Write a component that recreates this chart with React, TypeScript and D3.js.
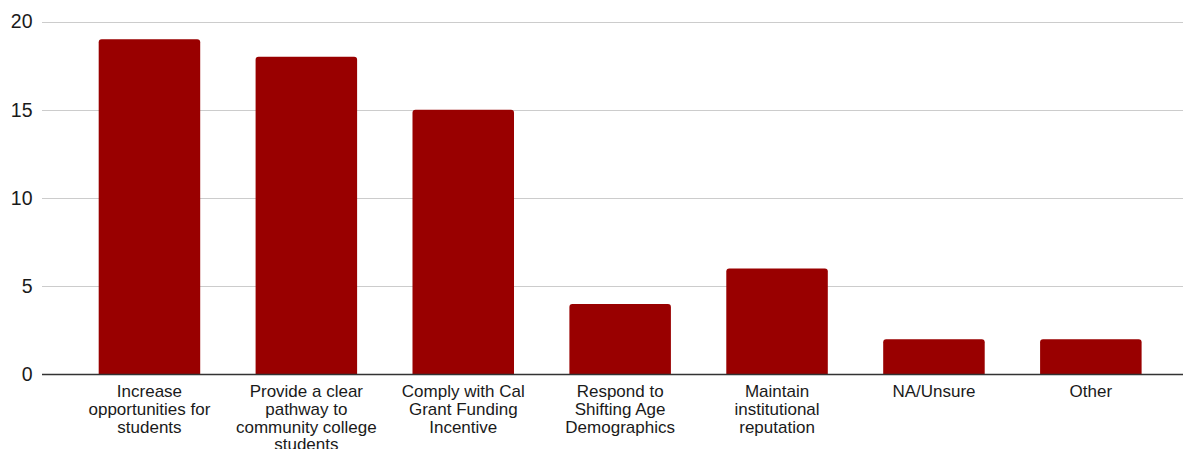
import React, { useEffect, useRef } from "react";
import * as d3 from "d3";

const categories = [
  "Increase opportunities for students",
  "Provide a clear pathway to community college students",
  "Comply with Cal Grant Funding Incentive",
  "Respond to Shifting Age Demographics",
  "Maintain institutional reputation",
  "NA/Unsure",
  "Other",
];
const values = [19, 18, 15, 4, 6, 2, 2];
const yTicks = [0, 5, 10, 15, 20];

const W = 1183;
const H = 449;
const FONT = "'Liberation Sans', Arial, sans-serif";

export default function App() {
  const ref = useRef<SVGSVGElement>(null);

  useEffect(() => {
    const svg = d3.select(ref.current);
    svg.selectAll("*").remove();

    const plotLeft = 71;
    const plotRight = 1169.3;
    const y = d3.scaleLinear().domain([0, 20]).range([374.5, 21.5]);
    const x = d3
      .scaleBand<string>()
      .domain(categories)
      .range([plotLeft, plotRight])
      .paddingInner(0.353)
      .paddingOuter(0.1765);

    // gridlines
    svg
      .append("g")
      .selectAll("line")
      .data(yTicks.filter((t) => t !== 0))
      .join("line")
      .attr("x1", 42)
      .attr("x2", W)
      .attr("y1", (d) => Math.round(y(d)) + 0.5)
      .attr("y2", (d) => Math.round(y(d)) + 0.5)
      .attr("stroke", "#cccccc")
      .attr("stroke-width", 1);

    // y labels
    svg
      .append("g")
      .selectAll("text")
      .data(yTicks)
      .join("text")
      .attr("x", 32.5)
      .attr("y", (d) => y(d))
      .attr("dy", "0.35em")
      .attr("text-anchor", "end")
      .attr("font-family", FONT)
      .attr("font-size", 19.5)
      .attr("fill", "#1a1a1a")
      .text((d) => String(d));

    // bars with rounded top corners
    const r = 3;
    svg
      .append("g")
      .selectAll("path")
      .data(categories.map((c, i) => ({ c, v: values[i] })))
      .join("path")
      .attr("fill", "#990000")
      .attr("d", (d) => {
        const x0 = x(d.c)!;
        const x1 = x0 + x.bandwidth();
        const y0 = y(0);
        const y1 = y(d.v);
        return `M${x0},${y0}V${y1 + r}Q${x0},${y1} ${x0 + r},${y1}H${x1 - r}Q${x1},${y1} ${x1},${y1 + r}V${y0}Z`;
      });

    // zero axis line
    svg
      .append("line")
      .attr("x1", 42)
      .attr("x2", W)
      .attr("y1", y(0))
      .attr("y2", y(0))
      .attr("stroke", "#333333")
      .attr("stroke-width", 1.3);

    // x labels with wrapping
    const maxW = 145;
    const lineH = 17.8;
    const g = svg.append("g");
    categories.forEach((c) => {
      const cx = x(c)! + x.bandwidth() / 2;
      const t = g
        .append("text")
        .attr("text-anchor", "middle")
        .attr("font-family", FONT)
        .attr("font-size", 17)
        .attr("fill", "#1a1a1a");
      const words = c.split(" ");
      const lines: string[] = [];
      let cur: string[] = [];
      const probe = t.append("tspan");
      words.forEach((w) => {
        const test = [...cur, w].join(" ");
        probe.text(test);
        const len = (probe.node() as SVGTextContentElement).getComputedTextLength();
        if (len > maxW && cur.length) {
          lines.push(cur.join(" "));
          cur = [w];
        } else {
          cur.push(w);
        }
      });
      if (cur.length) lines.push(cur.join(" "));
      probe.remove();
      lines.forEach((ln, i) => {
        t.append("tspan")
          .attr("x", cx)
          .attr("y", 397 + i * lineH)
          .text(ln);
      });
    });
  }, []);

  return (
    <svg
      ref={ref}
      width={W}
      height={H}
      style={{ position: "absolute", left: 0, top: 0, background: "#fff" }}
    />
  );
}
